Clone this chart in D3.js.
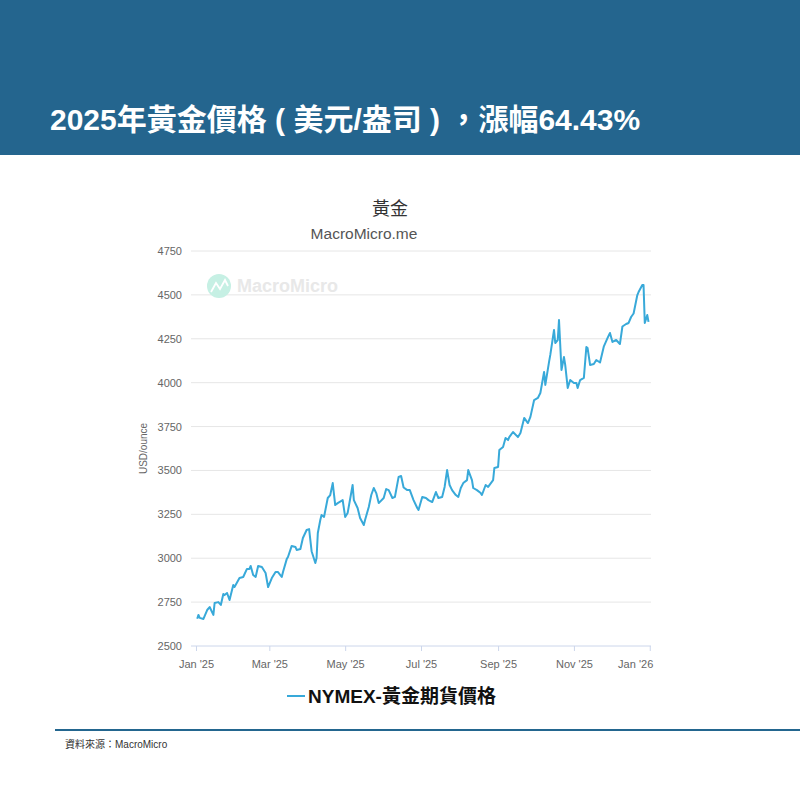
<!DOCTYPE html>
<html lang="zh-Hant">
<head>
<meta charset="UTF-8">
<script src="https://d3js.org/d3.v7.min.js"></script>
<title>2025年黃金價格</title>
<style>
    body { margin: 0; background: #fff; }
    svg { display: block; font-family: "Liberation Sans", Arial, "Noto Sans CJK TC", sans-serif; }
</style>
</head>
<body>
<div id="chart"></div>
<script>
    // NYMEX gold futures
    const dates = [
        "2025-01-02","2025-01-03","2025-01-04","2025-01-07","2025-01-10","2025-01-12","2025-01-15","2025-01-16",
        "2025-01-19","2025-01-21","2025-01-23","2025-01-24","2025-01-26","2025-01-28","2025-01-31","2025-02-01",
        "2025-02-05","2025-02-08","2025-02-11","2025-02-13","2025-02-14","2025-02-16","2025-02-18","2025-02-20",
        "2025-02-23","2025-02-26","2025-02-28","2025-03-03","2025-03-06","2025-03-08","2025-03-11","2025-03-12",
        "2025-03-15","2025-03-16","2025-03-19","2025-03-22","2025-03-23","2025-03-26","2025-03-28","2025-03-31",
        "2025-04-02","2025-04-04","2025-04-07","2025-04-08","2025-04-09","2025-04-11","2025-04-12","2025-04-14",
        "2025-04-17","2025-04-19","2025-04-21","2025-04-23","2025-04-25","2025-04-29","2025-05-01","2025-05-03",
        "2025-05-07","2025-05-08","2025-05-11","2025-05-13","2025-05-16","2025-05-17","2025-05-20","2025-05-22",
        "2025-05-24","2025-05-26","2025-05-28","2025-06-01","2025-06-03","2025-06-05","2025-06-08","2025-06-10",
        "2025-06-13","2025-06-15","2025-06-17","2025-06-20","2025-06-22","2025-06-25","2025-06-28","2025-06-29",
        "2025-07-02","2025-07-05","2025-07-07","2025-07-10","2025-07-13","2025-07-15","2025-07-18","2025-07-20",
        "2025-07-22","2025-07-24","2025-07-26","2025-07-29","2025-07-31","2025-08-02","2025-08-04","2025-08-07",
        "2025-08-08","2025-08-11","2025-08-12","2025-08-15","2025-08-18","2025-08-19","2025-08-22","2025-08-24",
        "2025-08-28","2025-08-29","2025-09-01","2025-09-02","2025-09-05","2025-09-07","2025-09-09","2025-09-10",
        "2025-09-13","2025-09-17","2025-09-19","2025-09-22","2025-09-25","2025-09-27","2025-09-30","2025-10-03",
        "2025-10-05","2025-10-08","2025-10-09","2025-10-12","2025-10-13","2025-10-16","2025-10-17","2025-10-19",
        "2025-10-20","2025-10-22","2025-10-24","2025-10-25","2025-10-27","2025-10-29","2025-11-01","2025-11-03",
        "2025-11-04","2025-11-06","2025-11-09","2025-11-11","2025-11-12","2025-11-14","2025-11-17","2025-11-19",
        "2025-11-22","2025-11-25","2025-11-28","2025-11-30","2025-12-02","2025-12-05","2025-12-08","2025-12-10",
        "2025-12-13","2025-12-15","2025-12-17","2025-12-19","2025-12-22","2025-12-23","2025-12-26","2025-12-27",
        "2025-12-28","2025-12-30","2025-12-31"
    ];
    const prices = [
        2655, 2677, 2660, 2654, 2705, 2722, 2677, 2745,
        2750, 2734, 2796, 2790, 2802, 2762, 2847, 2836,
        2887, 2893, 2939, 2939, 2956, 2904, 2893, 2956,
        2950, 2916, 2836, 2887, 2921, 2921, 2893, 2921,
        2995, 3007, 3070, 3064, 3047, 3052, 3115, 3161,
        3166, 3040, 2973, 3001, 3144, 3218, 3246, 3235,
        3343, 3360, 3428, 3303, 3314, 3331, 3235, 3258,
        3417, 3331, 3286, 3229, 3189, 3218, 3292, 3360,
        3400, 3371, 3314, 3343, 3394, 3388, 3343, 3349,
        3463, 3468, 3403, 3388, 3388, 3331, 3286, 3275,
        3349, 3343, 3331, 3320, 3377, 3343, 3349, 3406,
        3502, 3417, 3388, 3360, 3349, 3400, 3428, 3445,
        3502, 3445, 3400, 3388, 3371, 3360, 3417, 3406,
        3445, 3514, 3520, 3616, 3634, 3685, 3673, 3690,
        3719, 3690, 3713, 3799, 3770, 3805, 3901, 3913,
        3941, 4061, 3987, 4118, 4158, 4300, 4226, 4243,
        4357, 4072, 4146, 4101, 3970, 4015, 3998, 3998,
        3970, 4015, 4027, 4203, 4197, 4101, 4106, 4129,
        4115, 4205, 4254, 4283, 4232, 4243, 4220, 4320,
        4334, 4340, 4374, 4394, 4499, 4516, 4556, 4556,
        4340, 4385, 4346
    ];
    const yTicks = [2500, 2750, 3000, 3250, 3500, 3750, 4000, 4250, 4500, 4750];
    const xTicks = ["2025-01-01", "2025-03-01", "2025-05-01", "2025-07-01", "2025-09-01", "2025-11-01", "2026-01-01"];
    const xDomain = ["2024-12-28", "2026-01-02"];

    const width = 800, height = 800;
    const parse = d3.timeParse("%Y-%m-%d");
    const data = dates.map((d, i) => ({ date: parse(d), value: prices[i] }));

    const svg = d3.select("#chart").append("svg")
        .attr("width", width)
        .attr("height", height);

    // header band
    svg.append("rect")
        .attr("x", 0).attr("y", 0)
        .attr("width", width).attr("height", 155)
        .attr("fill", "#24658e");

    svg.append("text")
        .attr("x", 50).attr("y", 130)
        .attr("fill", "#fff")
        .attr("font-size", 30)
        .attr("font-weight", "bold")
        .text("2025年黃金價格 ( 美元/盎司 ) ，漲幅64.43%");

    // chart titles
    svg.append("text")
        .attr("x", 390).attr("y", 215)
        .attr("text-anchor", "middle")
        .attr("fill", "#333")
        .attr("font-size", 18)
        .text("黃金");

    svg.append("text")
        .attr("x", 364).attr("y", 239)
        .attr("text-anchor", "middle")
        .attr("fill", "#555")
        .attr("font-size", 15.5)
        .text("MacroMicro.me");

    const x = d3.scaleTime()
        .domain(xDomain.map(parse))
        .range([191, 651]);

    const y = d3.scaleLinear()
        .domain([2500, 4750])
        .range([646, 251]);

    // horizontal gridlines
    svg.append("g")
        .selectAll("line")
        .data(yTicks)
        .join("line")
        .attr("x1", 191).attr("x2", 651)
        .attr("y1", d => y(d)).attr("y2", d => y(d))
        .attr("stroke", d => d === 2500 ? "#ccd6eb" : "#e6e6e6")
        .attr("stroke-width", 1);

    // y labels
    svg.append("g")
        .selectAll("text")
        .data(yTicks)
        .join("text")
        .attr("x", 182)
        .attr("y", d => y(d) + 4)
        .attr("text-anchor", "end")
        .attr("fill", "#666")
        .attr("font-size", 11)
        .text(d => d);

    svg.append("text")
        .attr("transform", "translate(147," + y(3625) + ") rotate(-90)")
        .attr("text-anchor", "middle")
        .attr("fill", "#666")
        .attr("font-size", 10)
        .text("USD/ounce");

    // x axis
    const xAxis = d3.axisBottom(x)
        .tickValues(xTicks.map(parse))
        .tickSize(5)
        .tickFormat(d3.timeFormat("%b '%y"));

    const gx = svg.append("g")
        .attr("transform", "translate(0,646)")
        .call(xAxis);
    gx.select(".domain").remove();
    gx.selectAll(".tick line").attr("stroke", "#ccd6eb");
    gx.selectAll(".tick text")
        .attr("fill", "#666")
        .attr("font-size", 11)
        .attr("font-family", "inherit")
        .attr("dy", "1.3em");
    // last label is pulled inside the plot, like the reference
    gx.selectAll(".tick text")
        .filter((d, i, n) => i === n.length - 1)
        .attr("text-anchor", "end")
        .attr("x", 3);

    // watermark
    svg.append("circle")
        .attr("cx", 219).attr("cy", 286).attr("r", 12)
        .attr("fill", "#c6f0e4");
    svg.append("path")
        .attr("d", "M211,292 L216,283 L220,289 L225,280 L228,286")
        .attr("fill", "none")
        .attr("stroke", "#fff")
        .attr("stroke-width", 1.8);
    svg.append("text")
        .attr("x", 237).attr("y", 292)
        .attr("fill", "#e8e8e8")
        .attr("font-size", 18)
        .attr("font-weight", "bold")
        .text("MacroMicro");

    // price line
    const line = d3.line()
        .x(d => x(d.date))
        .y(d => y(d.value));

    svg.append("path")
        .datum(data)
        .attr("d", line)
        .attr("fill", "none")
        .attr("stroke", "#38a9d9")
        .attr("stroke-width", 2)
        .attr("stroke-linejoin", "round");

    // legend
    svg.append("line")
        .attr("x1", 287).attr("x2", 305)
        .attr("y1", 696).attr("y2", 696)
        .attr("stroke", "#38a9d9")
        .attr("stroke-width", 2);
    svg.append("text")
        .attr("x", 308).attr("y", 703)
        .attr("fill", "#111")
        .attr("font-size", 19)
        .attr("font-weight", "bold")
        .text("NYMEX-黃金期貨價格");

    // footer
    svg.append("line")
        .attr("x1", 55).attr("x2", 800)
        .attr("y1", 730).attr("y2", 730)
        .attr("stroke", "#23668f")
        .attr("stroke-width", 2);
    svg.append("text")
        .attr("x", 65).attr("y", 748)
        .attr("fill", "#333")
        .attr("font-size", 10)
        .text("資料來源：MacroMicro");
</script>
</body>
</html>
